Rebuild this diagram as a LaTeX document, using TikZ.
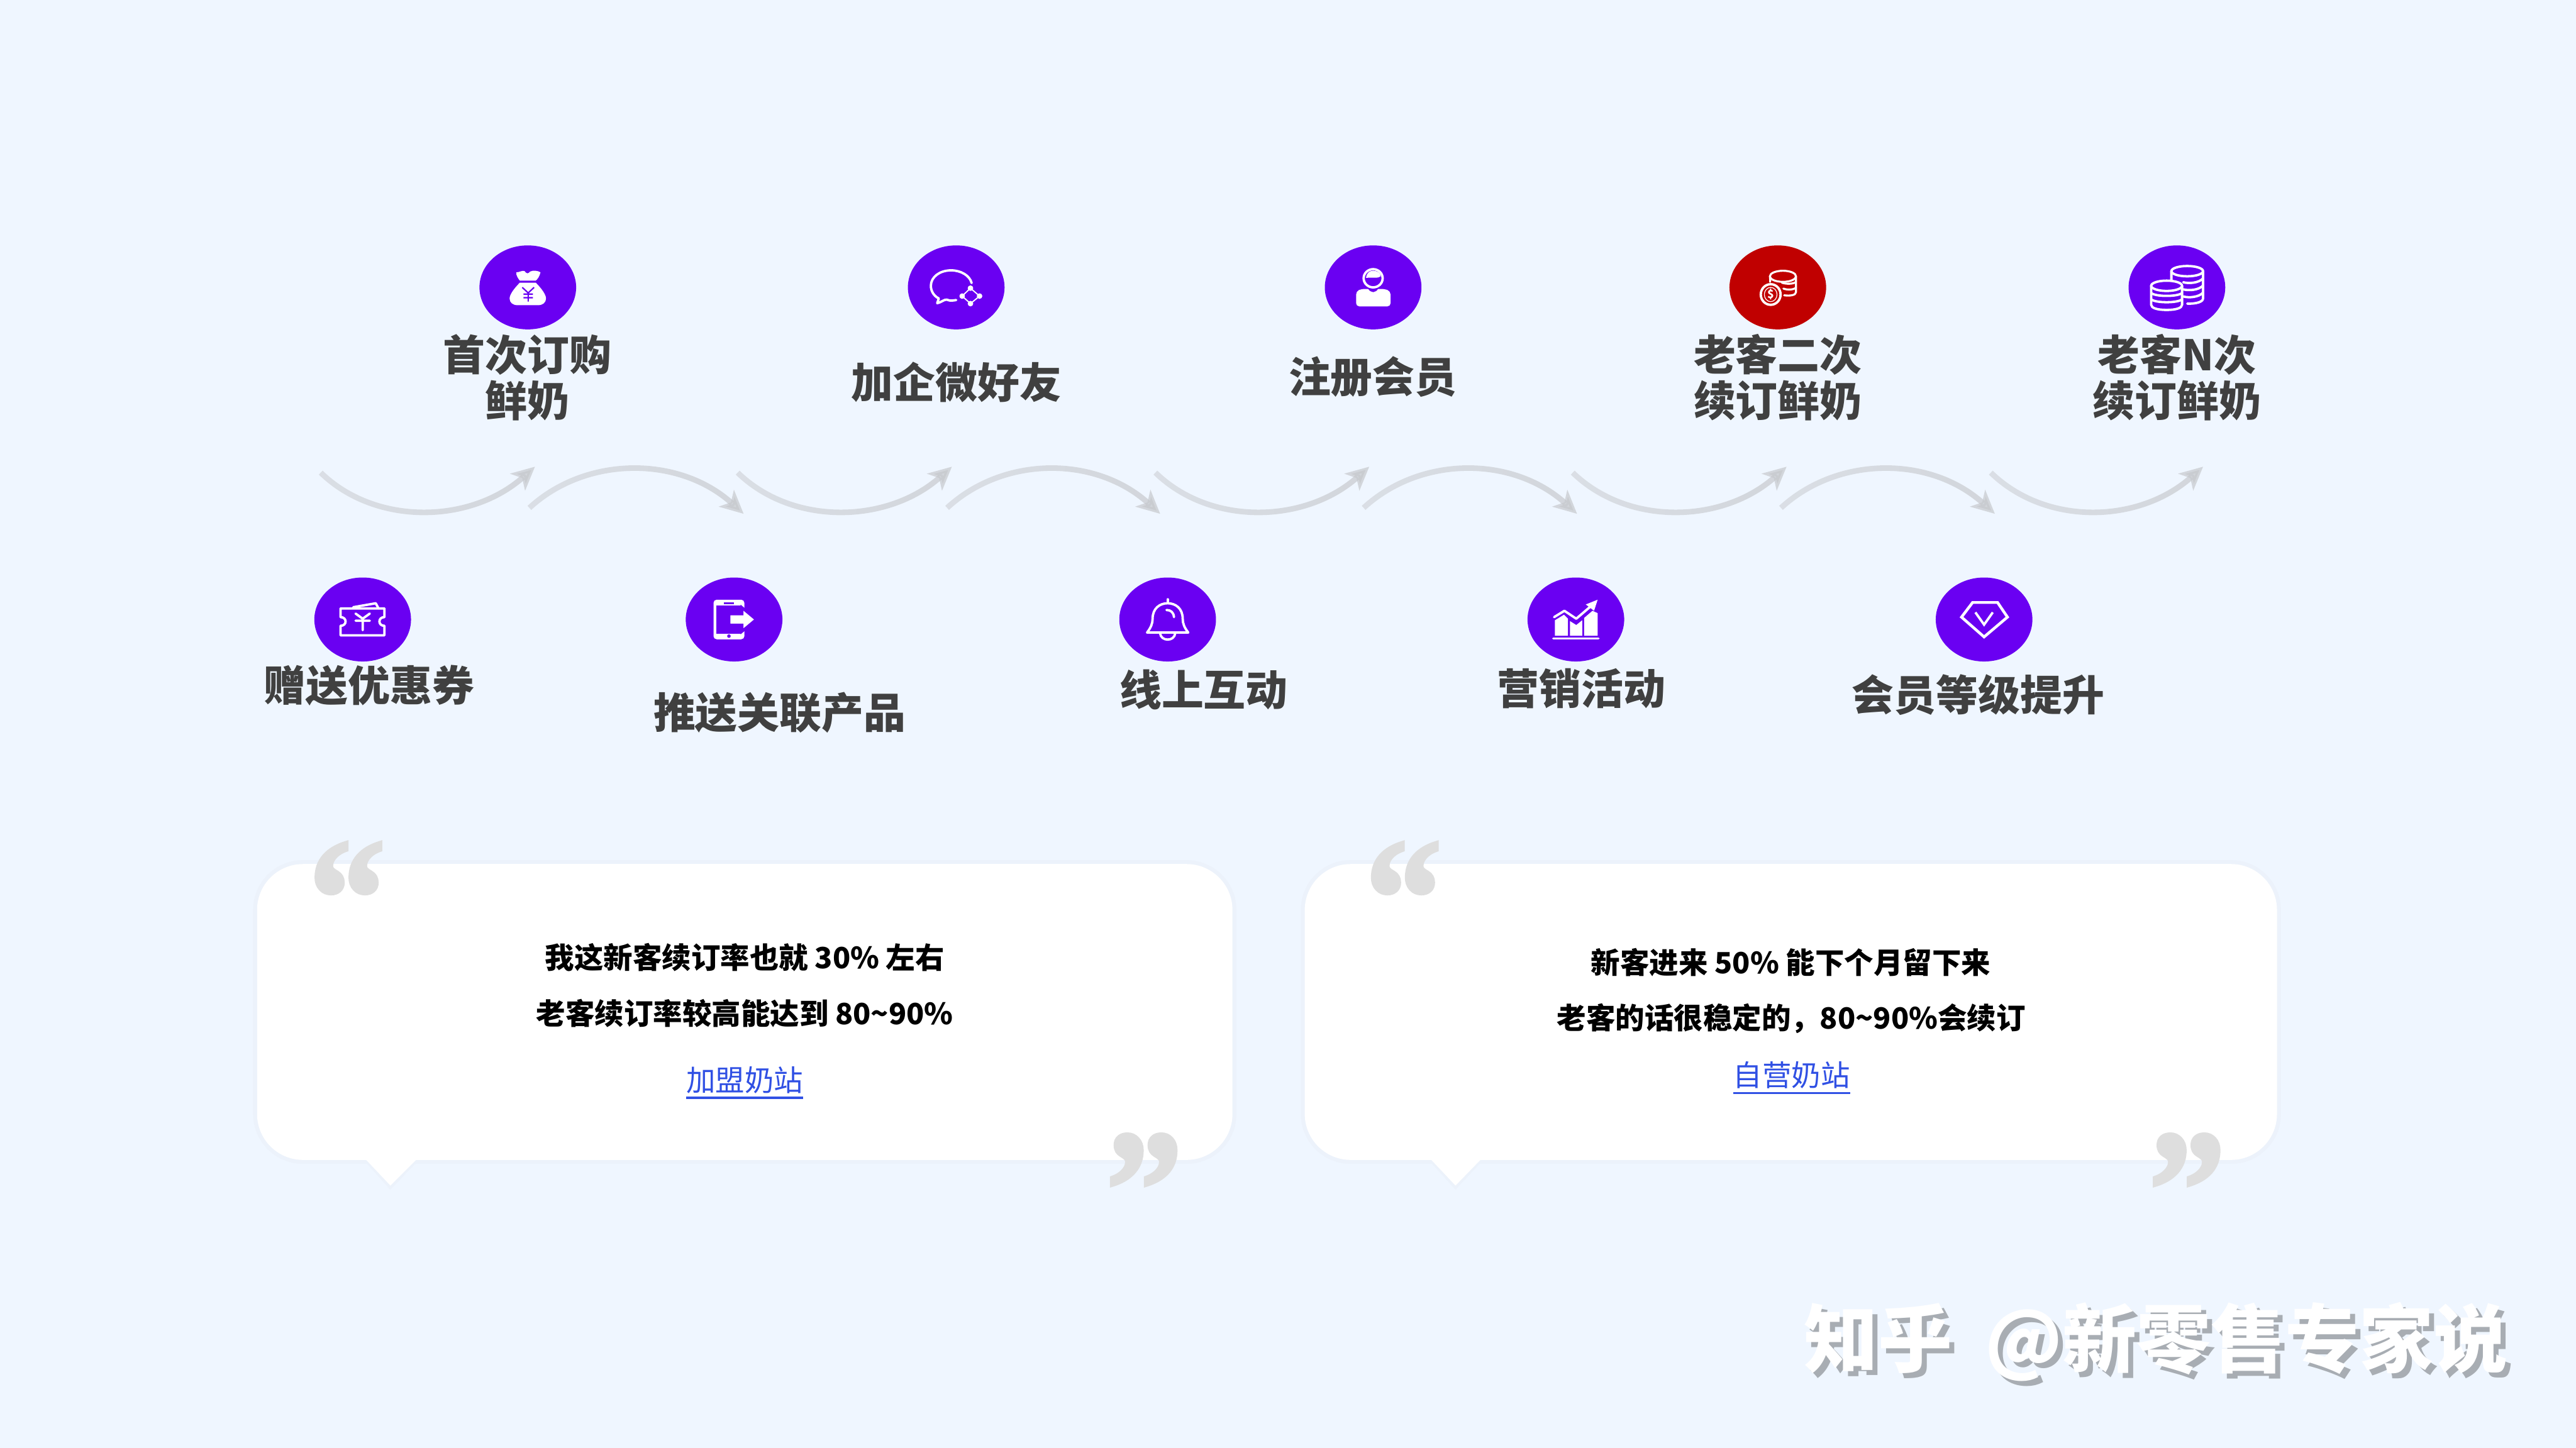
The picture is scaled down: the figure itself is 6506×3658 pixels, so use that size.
\documentclass[tikz,border=0pt]{standalone}
\usepackage{fontspec}
\usepackage{graphicx}
\setmainfont{Noto Sans CJK SC}
\newfontfamily\quotefont[UprightFont=* Bold,FakeBold=2]{Liberation Serif}
\usetikzlibrary{arrows.meta,shapes.geometric,fadings}
\definecolor{bgc}{HTML}{EFF6FF}
\definecolor{halo}{HTML}{ECF2FB}
\definecolor{purp}{HTML}{6A00F2}
\definecolor{redc}{HTML}{C00000}
\definecolor{labelc}{HTML}{404040}
\definecolor{linkc}{HTML}{3050E4}
\definecolor{arcc}{HTML}{C6C8CC}
\definecolor{qc}{HTML}{DEDEDE}
\definecolor{wmshadow}{HTML}{A8ADB3}
\tikzfading[name=arcfade,left color=transparent!50,middle color=transparent!0,right color=transparent!30]
\tikzset{
  disc/.style={ellipse,fill=purp,minimum width=2.44cm,minimum height=2.12cm,inner sep=0pt,outer sep=0pt},
  reddisc/.style={disc,fill=redc},
  lab/.style={inner sep=0pt,outer sep=0pt,text=labelc,align=center,font=\fontsize{30.2}{33}\selectfont\bfseries},
  quotetext/.style={inner sep=0pt,outer sep=0pt,text=black,font=\fontsize{21}{24}\selectfont\bfseries},
  linktext/.style={inner sep=0pt,outer sep=0pt,text=linkc,font=\fontsize{21}{24}\selectfont},
  linkline/.style={draw=linkc,line width=.05cm},
  bubblebox/.style={rectangle,rounded corners=1.16cm,fill=white,inner sep=0pt,outer sep=0pt,minimum width=#1,minimum height=7.47cm,preaction={draw=halo,line width=.2cm}},
  bubbletail/.style={fill=white},
  tailhalo/.style={draw=halo,line width=.1cm},
  qmark/.style={inner sep=0pt,outer sep=0pt,anchor=north,text=qc,font=\quotefont},
  flowarc/.style={draw=arcc,line width=.14cm,path fading=arcfade,-{Stealth[length=.58cm,width=.56cm,inset=.15cm]}},
  ic/.style={draw=white,line width=.06cm,line cap=round,line join=round},
  icf/.style={fill=white},
  wm/.style={inner sep=0pt,outer sep=0pt,font=\fontsize{53.3}{60}\selectfont\bfseries},
}
\newcommand\downarc[2]{\draw[flowarc] (#1) .. controls +(140,136) and +(-161,143) .. (#2);}
\newcommand\uparc[2]{\draw[flowarc] (#1) .. controls +(143,-132) and +(-163,-147) .. (#2);}
\begin{document}
\begin{tikzpicture}[x=.01cm,y=-.01cm]
\useasboundingbox (0,0) rectangle (6506,3658);
\fill[bgc] (0,0) rectangle (6506,3658);

% discs
\node[disc] (d1) at (1333,726) {};
\node[disc] (d2) at (2415,726) {};
\node[disc] (d3) at (3468,726) {};
\node[reddisc] (d4) at (4490,726) {};
\node[disc] (d5) at (5498,726) {};
\node[disc] (e1) at (916,1565) {};
\node[disc] (e2) at (1854,1565) {};
\node[disc] (e3) at (2949,1565) {};
\node[disc] (e4) at (3980,1565) {};
\node[disc] (e5) at (5011,1565) {};

% labels
\node[lab] (t1) at (1332,954) {首次订购\\鲜奶};
\node[lab] (t2) at (2416,966) {加企微好友};
\node[lab] (t3) at (3467,952) {注册会员};
\node[lab] (t4) at (4490,954) {老客二次\\续订鲜奶};
\node[lab] (t5) at (5498,954) {老客N次\\续订鲜奶};
\node[lab] (u1) at (932,1731) {赠送优惠券};
\node[lab] (u2) at (1969,1800) {推送关联产品};
\node[lab] (u3) at (3040,1742) {线上互动};
\node[lab] (u4) at (3994,1739) {营销活动};
\node[lab] (u5) at (4996,1756) {会员等级提升};

% flow arcs
\coordinate (a0) at (810,1194);   \coordinate (a1) at (1351,1179);
\coordinate (b1) at (1337,1283);  \coordinate (b2) at (1878,1298);
\coordinate (a2) at (1863,1194);  \coordinate (a3) at (2404,1179);
\coordinate (b3) at (2392,1283);  \coordinate (b4) at (2930,1298);
\coordinate (a4) at (2918,1194);  \coordinate (a5) at (3458,1179);
\coordinate (b5) at (3444,1283);  \coordinate (b6) at (3983,1298);
\coordinate (a6) at (3972,1194);  \coordinate (a7) at (4512,1179);
\coordinate (b7) at (4498,1283);  \coordinate (b8) at (5038,1298);
\coordinate (a8) at (5028,1194);  \coordinate (a9) at (5564,1179);
\downarc{a0}{a1}
\uparc{b1}{b2}
\downarc{a2}{a3}
\uparc{b3}{b4}
\downarc{a4}{a5}
\uparc{b5}{b6}
\downarc{a6}{a7}
\uparc{b7}{b8}
\downarc{a8}{a9}

% bag
\begin{scope}[shift={(1333,726)}]
  \fill[icf] (-29,-38) .. controls (-20,-38) and (-14,-44) .. (-8,-41) .. controls (-4,-34) and (2,-34) .. (6,-40) .. controls (14,-44) and (26,-42) .. (32,-38) .. controls (30,-28) and (24,-20) .. (20,-17) -- (-20,-17) .. controls (-24,-22) and (-30,-30) .. (-29,-38) -- cycle;
  \fill[icf] (-20,-12) -- (20,-12) .. controls (34,2) and (46,18) .. (46,28) .. controls (46,38) and (38,45) .. (26,45) -- (-26,45) .. controls (-38,45) and (-46,38) .. (-46,28) .. controls (-46,18) and (-34,2) .. (-20,-12) -- cycle;
  \draw[draw=purp,line width=.035cm] (-14,0) -- (1,14) -- (16,0) (1,14) -- (1,36) (-11,17) -- (13,17) (-11,26) -- (13,26);
\end{scope}

% ticket
\begin{scope}[shift={(916,1565)}]
  \draw[ic] (-56,-28) -- (55,-28) -- (55,-6) .. controls (38,-6) and (38,16) .. (55,16) -- (55,40) -- (-56,40) -- (-56,16) .. controls (-39,16) and (-39,-6) .. (-56,-6) -- cycle;
  \draw[ic] (-24,-31) -- (33,-41) -- (40,-28);
  \draw[ic] (-18,-15) -- (0,-2) -- (18,-15) (0,-2) -- (0,27) (-18,3) -- (18,3);
\end{scope}

% phone
\begin{scope}[shift={(1854,1565)}]
  \fill[icf,rounded corners=.08cm] (-52,-50) rectangle (26,50);
  \fill[purp] (-45,-35) rectangle (18,36);
  \fill[purp] (-26,-44) rectangle (0,-39);
  \fill[purp] (-13,42) circle (4.5);
  \fill[icf,draw=purp,line width=.07cm] (-13,-14) -- (20,-14) -- (20,-30) -- (56,0) -- (20,30) -- (20,14) -- (-13,14) -- cycle;
\end{scope}

% wechat
\begin{scope}[shift={(2415,726)}]
  \draw[ic] (39,-11) .. controls (34,-30) and (12,-43) .. (-13,-43) .. controls (-42,-43) and (-64,-26) .. (-64,-4) .. controls (-64,10) and (-56,22) .. (-44,28) -- (-48,40) .. controls (-38,38) and (-30,30) .. (-24,31) .. controls (-14,35) and (-8,33) .. (0,32);
  \draw[draw=white,line width=.03cm] (36,2) -- (59,22) -- (36,41) -- (15,22) -- cycle;
  \fill[icf] (36,2) circle (7) (59,22) circle (7) (36,41) circle (7) (15,22) circle (7);
\end{scope}

% person
\begin{scope}[shift={(3468,726)}]
  \fill[icf,rounded corners=.08cm] (-43,48) -- (-43,10) -- (-30,4) -- (30,4) -- (44,10) -- (44,48) -- cycle;
  \fill[purp] (0,-18) ellipse (18 and 30);
  \draw[ic,fill=purp] (0,-23) ellipse (24 and 23);
  \fill[icf] (-18,-24) .. controls (-16,-38) and (-8,-42) .. (0,-42) .. controls (10,-42) and (20,-36) .. (19,-28) .. controls (12,-22) and (0,-26) .. (-18,-24) -- cycle;
\end{scope}

% bell
\begin{scope}[shift={(2949,1565)}]
  \draw[ic] (-52,33) .. controls (-42,20) and (-38,10) .. (-38,-2) .. controls (-38,-28) and (-20,-41) .. (0,-41) .. controls (20,-41) and (38,-28) .. (38,-2) .. controls (38,10) and (42,20) .. (52,33) -- cycle;
  \draw[ic] (0,-51) -- (0,-42);
  \draw[ic] (-19,35) .. controls (-17,56) and (17,56) .. (19,35);
  \draw[ic] (-3,-24) .. controls (8,-24) and (15,-18) .. (16,-6);
\end{scope}

% red coins
\begin{scope}[shift={(4490,726)}]
  \draw[ic,line width=.05cm] (-19,-16) -- (-20,-28) (46,-28) -- (46,12) .. controls (46,20) and (30,22) .. (16,20);
  \draw[ic,line width=.05cm] (10,-12) .. controls (20,-8) and (40,-8) .. (46,-14) (14,3) .. controls (24,7) and (40,6) .. (46,1);
  \draw[ic,line width=.05cm] (-20,-28) -- (-20,-14);
  \draw[ic,line width=.05cm] (13,-28) ellipse (33 and 14);
  \draw[ic,fill=redc] (-18,18) ellipse (25 and 26);
  \draw[draw=white,line width=.02cm] (-18,18) ellipse (16 and 18);
  \node[inner sep=0pt,text=white,font=\fontsize{8}{9}\selectfont\bfseries] (dollar) at (-18,18) {\$};
\end{scope}

% stacked coins
\begin{scope}[shift={(5498,726)}]
  \draw[ic] (-14,-41) -- (-14,41) (66,-41) -- (66,28) .. controls (66,36) and (50,42) .. (26,41);
  \foreach \yy in {-23,-5,13} {\draw[ic] (16,\yy+10) .. controls (30,\yy+14) and (56,\yy+12) .. (66,\yy);}
  \draw[ic] (26,-41) ellipse (40 and 13);
  \draw[ic,fill=purp] (-65,-4) -- (-65,44) .. controls (-65,52) and (-50,57) .. (-26,57) .. controls (-2,57) and (13,52) .. (13,44) -- (13,-4) -- cycle;
  \foreach \yy in {14,30} {\draw[ic] (-65,\yy) .. controls (-55,\yy+10) and (3,\yy+10) .. (13,\yy);}
  \draw[ic,fill=purp] (-26,-4) ellipse (39 and 13);
\end{scope}

% chart
\begin{scope}[shift={(3980,1565)}]
  \draw[ic] (-57,48) -- (57,48);
  \fill[icf] (-53,41) -- (-53,2) -- (-30,-12) -- (-20,-2) -- (-20,41) -- cycle;
  \fill[icf] (-15,41) -- (-15,4) -- (1,14) -- (16,2) -- (16,41) -- cycle;
  \fill[icf] (21,41) -- (21,-4) -- (42,-22) -- (55,-16) -- (55,41) -- cycle;
  \draw[ic] (-55,-6) -- (-29,-22) -- (1,-2) -- (36,-32);
  \fill[icf] (55,-50) -- (46,-22) -- (25,-38) -- cycle;
\end{scope}

% diamond
\begin{scope}[shift={(5011,1565)}]
  \draw[ic,line width=.07cm,line cap=butt,line join=miter] (-29,-43) -- (34,-43) -- (59,-6) -- (0,44) -- (-57,-6) -- cycle;
  \draw[ic,line width=.06cm,line cap=butt,line join=miter] (-22,-18) -- (0,13) -- (22,-18);
\end{scope}

% left bubble
\draw[tailhalo] (920,2925) -- (986,2998) -- (1056,2925);
\node[bubblebox=24.62cm] (bub1) at (1881,2556.5) {};
\fill[bubbletail] (920,2925) -- (986,2995) -- (1056,2925) -- cycle;
\node[qmark] (q1) at (877,2128) {\resizebox{1.95cm}{2.85cm}{“}};
\node[qmark] (q2) at (2890,2865) {\resizebox{1.95cm}{2.85cm}{”}};
\node[quotetext] (p1) at (1881,2418) {我这新客续订率也就 30\% 左右};
\node[quotetext] (p2) at (1881,2560) {老客续订率较高能达到 80\textasciitilde90\%};
\node[linktext] (l1) at (1881,2728) {加盟奶站};
\draw[linkline] ([yshift=-.11cm]l1.south west) -- ([yshift=-.11cm]l1.south east);

% right bubble
\draw[tailhalo] (3610,2925) -- (3676,2998) -- (3744,2925);
\node[bubblebox=24.54cm] (bub2) at (4523,2556.5) {};
\fill[bubbletail] (3610,2925) -- (3676,2995) -- (3744,2925) -- cycle;
\node[qmark] (q3) at (3545,2128) {\resizebox{1.95cm}{2.85cm}{“}};
\node[qmark] (q4) at (5524,2865) {\resizebox{1.95cm}{2.85cm}{”}};
\node[quotetext] (r1) at (4523,2431) {新客进来 50\% 能下个月留下来};
\node[quotetext] (r2) at (4524,2573) {老客的话很稳定的，80\textasciitilde90\%会续订};
\node[linktext] (l2) at (4525,2716) {自营奶站};
\draw[linkline] ([yshift=-.11cm]l2.south west) -- ([yshift=-.11cm]l2.south east);

% watermark
\node[wm,text=wmshadow] (w1) at (5458,3402) {知乎\hspace{.4cm} @新零售专家说};
\node[wm,text=white] (w2) at (5445,3389) {知乎\hspace{.4cm} @新零售专家说};
\end{tikzpicture}
\end{document}
